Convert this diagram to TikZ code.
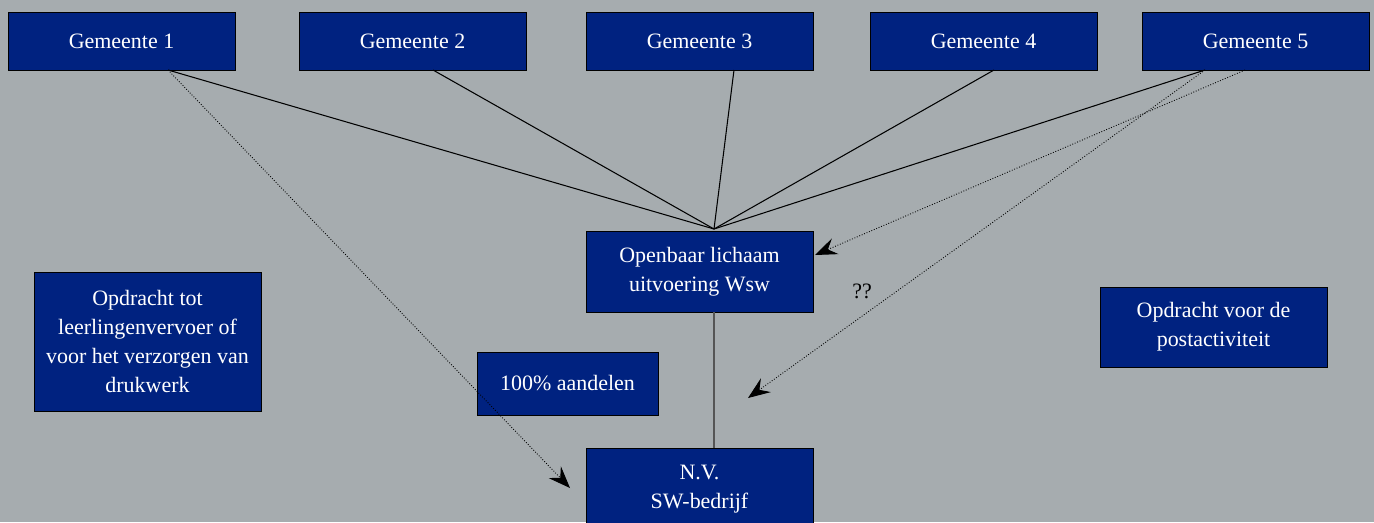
\documentclass[tikz,border=0pt]{standalone}
\usepackage{fontspec}
\setmainfont{Liberation Serif}
\usetikzlibrary{arrows.meta}
\definecolor{boxblue}{RGB}{0,34,128}
\definecolor{bggrey}{RGB}{166,172,175}
\definecolor{lijngrijs}{RGB}{85,85,85}
\begin{document}
\begin{tikzpicture}[x=0.02cm,y=-0.02cm,
    blok/.style={draw=black,fill=boxblue,text=white,align=center,inner sep=0pt,
      minimum width=4.54cm,minimum height=1.16cm,font=\fontsize{12.5}{16.5}\selectfont},
    lijn/.style={line width=0.6pt},
    pijl/.style={densely dotted,line width=0.5pt,
      -{Stealth[length=4.4mm,width=3.4mm,inset=1.6mm]}}]
            \useasboundingbox (0,0) rectangle (1374,522);
            \clip (0,0) rectangle (1374,522);
            \fill[bggrey] (0,0) rectangle (1374,522);

            \node[blok] (g1) at (121.5,41) {Gemeente 1};
            \node[blok] (g2) at (412.5,41) {Gemeente 2};
            \node[blok] (g3) at (699.5,41) {Gemeente 3};
            \node[blok] (g4) at (983.5,41) {Gemeente 4};
            \node[blok] (g5) at (1255.5,41) {Gemeente 5};

            \node[blok,minimum height=1.62cm] (wsw) at (699.5,271.5) {Openbaar lichaam\\uitvoering Wsw};
            \node[blok,minimum width=3.62cm,minimum height=1.26cm] (aandelen) at (567.5,383.5) {100\%\ aandelen};
            \node[blok,minimum height=1.64cm] (nv) at (699.5,489) {N.V.\\SW-bedrijf};
            \node[blok,minimum height=2.78cm] (vervoer) at (147.5,341.5) {Opdracht tot\\leerlingenvervoer of\\voor het verzorgen van\\drukwerk};
            \node[blok,minimum height=1.6cm] (post) at (1213.5,327) {Opdracht voor de\\postactiviteit};
            \node[font=\fontsize{12.5}{15}\selectfont] (vraag) at (862,291) {??};

            \coordinate (top) at (714,229);
            \coordinate (b1) at (168,70);
            \coordinate (b2) at (433,70);
            \coordinate (b3) at (734,70);
            \coordinate (b4) at (994,70);
            \coordinate (b5) at (1205,70);
            \coordinate (c5) at (1245,70);
            \coordinate (P) at (570,488);
            \coordinate (Q) at (748,398);
            \coordinate (R) at (815,255);

            \draw[lijn] (b1) -- (top);
            \draw[lijn] (b2) -- (top);
            \draw[lijn] (b3) -- (top);
            \draw[lijn] (b4) -- (top);
            \draw[lijn] (b5) -- (top);
            \draw[line width=1pt,lijngrijs] (wsw.south -| top) -- (nv.north -| top);

            \draw[pijl] (b1) -- (P);
            \draw[pijl] (b5) -- (Q);
            \draw[pijl] (c5) -- (R);
          \end{tikzpicture}
\end{document}
